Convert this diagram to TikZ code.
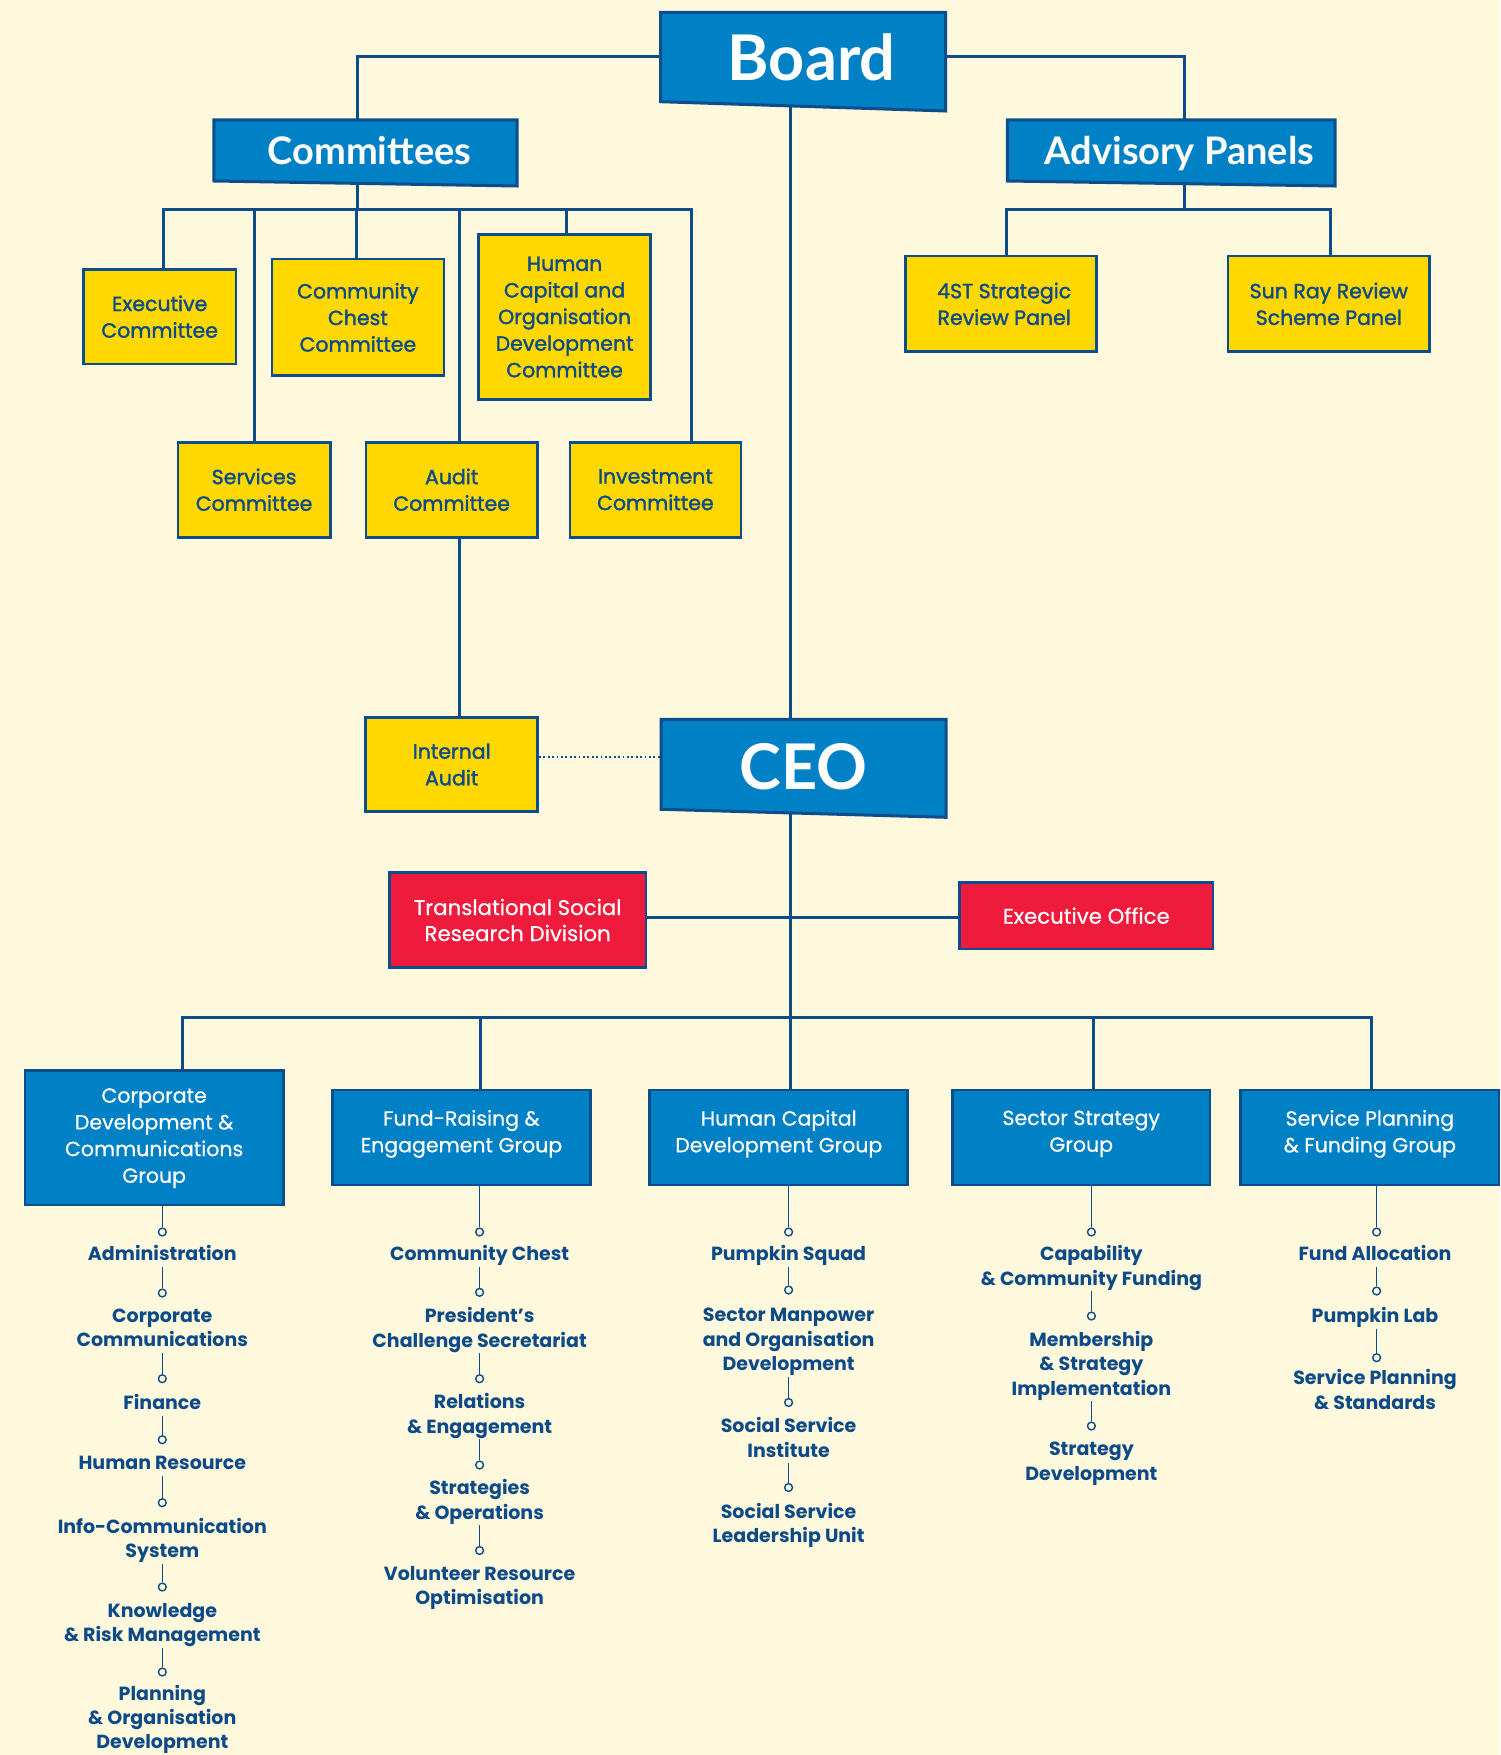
\documentclass[tikz,border=0pt]{standalone}
\usepackage{fontspec}
\setmainfont{Poppins}
\newfontfamily\latofont{Lato}
\newfontfamily\popmed[FakeBold=1.6]{Poppins}
\newfontfamily\popbook[FakeBold=0.6]{Poppins}
\pgfdeclarelayer{bg}
\pgfdeclarelayer{lines}
\pgfsetlayers{bg,lines,main}
\definecolor{bgc}{HTML}{FEF8DD}
\definecolor{ylw}{HTML}{FFD800}
\definecolor{blu}{HTML}{0080C5}
\definecolor{nvy}{HTML}{0E4D8C}
\definecolor{nvyt}{HTML}{0D4A88}
\definecolor{rd}{HTML}{EE1B3D}
\tikzset{
  conn/.style={draw=nvy, line width=3pt},
  sub/.style={draw=nvy, line width=1.6pt},
  dotline/.style={draw=nvy, line width=1.8pt, dash pattern=on 1.8pt off 2.6pt},
  titleshape/.style={fill=blu, draw=nvy, line width=3pt, line join=miter},
  bigtitle/.style={inner sep=0pt, text=white, text depth=0pt, font=\latofont\bfseries\fontsize{63}{63}\selectfont},
  midtitle/.style={inner sep=0pt, text=white, text depth=0pt, font=\latofont\bfseries\fontsize{38}{38}\selectfont},
  ybox/.style={rectangle, fill=ylw, draw=nvy, line width=2.6pt, text=nvyt, align=center, inner sep=0pt, font=\popmed\fontsize{20.5}{26.6}\selectfont},
  rbox/.style={rectangle, fill=rd, draw=nvy, line width=2.6pt, text=white, align=center, inner sep=0pt, font=\popbook\fontsize{21.3}{26}\selectfont},
  gbox/.style={rectangle, fill=blu, draw=nvy, line width=2.8pt, text=white, align=center, inner sep=0pt, font=\popbook\fontsize{20.5}{26.7}\selectfont},
  item/.style={text=nvyt, align=center, inner sep=0pt, text depth=0pt, font=\bfseries\fontsize{19}{24.4}\selectfont},
  dotc/.style={circle, draw=nvy, fill=bgc, line width=1.4pt, minimum size=7.8pt, inner sep=0pt},
}
\begin{document}
\begin{tikzpicture}[x=1pt,y=-1pt]
\begin{pgfonlayer}{bg}
\fill[bgc] (0,0) rectangle (1500,1755);
\end{pgfonlayer}
\useasboundingbox (0,0) rectangle (1500,1755);

% ---------- title shapes ----------
\filldraw[titleshape] (660.7,12.3) -- (945.7,12.3) -- (945.7,111) -- (660.7,101.7) -- cycle;
\node[bigtitle, minimum width=285pt, minimum height=89.4pt] (board) at (803.2,57) {\hspace*{16.6pt}Board};

\filldraw[titleshape] (213.8,119.8) -- (517,119.8) -- (517,186) -- (213.8,181) -- cycle;
\node[midtitle, minimum width=303pt, minimum height=61pt] (committees) at (365.4,150.4) {\hspace*{8pt}Committees};

\filldraw[titleshape] (1007.3,120) -- (1335,120) -- (1335,186) -- (1007.3,181) -- cycle;
\node[midtitle, minimum width=327pt, minimum height=61pt] (advisory) at (1171.2,150.5) {\hspace*{16.6pt}Advisory Panels};

\filldraw[titleshape] (661,719.3) -- (946.2,719.3) -- (946.2,817.3) -- (661,809.3) -- cycle;
\node[bigtitle, minimum width=285pt, minimum height=90pt] (ceo) at (803.6,764.3) {\raisebox{-4.4pt}{CEO}};

% ---------- committees ----------
\node[ybox, minimum width=152.7pt, minimum height=94.7pt] (exec) at (159.65,316.65) {Executive\\Committee};
\node[ybox, minimum width=171.8pt, minimum height=116.7pt] (cc) at (357.9,317.35) {Community\\Chest\\Committee};
\node[ybox, minimum width=172pt, minimum height=165pt] (hcc) at (564.6,317) {Human\\Capital and\\Organisation\\Development\\Committee};
\node[ybox, minimum width=152.2pt, minimum height=95.1pt] (serv) at (254.1,489.75) {Services\\Committee};
\node[ybox, minimum width=171.3pt, minimum height=95.1pt] (audit) at (451.65,489.75) {Audit\\Committee};
\node[ybox, minimum width=171.2pt, minimum height=95.1pt] (invest) at (655.4,489.75) {Investment\\Committee};
\node[ybox, minimum width=172pt, minimum height=94.4pt] (ia) at (451.7,764.5) {Internal\\Audit};

% ---------- advisory panels ----------
\node[ybox, minimum width=191pt, minimum height=95.7pt] (st4) at (1001.2,303.85) {\hspace*{6pt}4ST Strategic\\\hspace*{6pt}Review Panel};
\node[ybox, minimum width=201.6pt, minimum height=95.7pt] (sunray) at (1328.8,303.85) {Sun Ray Review\\Scheme Panel};

% ---------- red boxes ----------
\node[rbox, minimum width=256.7pt, minimum height=94.6pt] (tsr) at (517.65,920) {Translational Social\\Research Division};
\node[rbox, minimum width=253.4pt, minimum height=66.7pt] (eo) at (1086.3,915.65) {Executive Office};

% ---------- groups ----------
\node[gbox, minimum width=258.3pt, minimum height=134.3pt, text depth=4.7pt] (gcorp) at (154.15,1137.85) {Corporate\\Development \&\\Communications\\Group};
\node[gbox, minimum width=257.9pt, minimum height=95pt, text depth=12.7pt] (gfund) at (461.45,1137.5) {Fund-Raising \&\\Engagement Group};
\node[gbox, minimum width=258pt, minimum height=95pt, text depth=12.7pt] (ghc) at (778.8,1137.5) {Human Capital\\Development Group};
\node[gbox, minimum width=257.4pt, minimum height=95pt, text depth=12.7pt] (gsec) at (1081.2,1137.5) {Sector Strategy\\Group};
\node[gbox, minimum width=258.1pt, minimum height=95pt, text depth=12.7pt] (gsp) at (1369.85,1137.5) {Service Planning\\\& Funding Group};

% ---------- list: corporate ----------
\node[dotc] (a1) at (162.3,1232) {};
\node[item] (ai1) at (162.3,1253) {Administration};
\node[dotc] (a2) at (162.3,1293) {};
\node[item] (ai2) at (162.3,1327.75) {Corporate\\Communications};
\node[dotc] (a3) at (162.3,1378.7) {};
\node[item] (ai3) at (162.3,1401.7) {Finance};
\node[dotc] (a4) at (162.3,1439.7) {};
\node[item] (ai4) at (162.3,1462.7) {Human Resource};
\node[dotc] (a5) at (162.3,1502.7) {};
\node[item] (ai5) at (162.3,1537.85) {Info-Communication\\System};
\node[dotc] (a6) at (162.3,1587) {};
\node[item] (ai6) at (162.3,1622.15) {Knowledge\\\& Risk Management};
\node[dotc] (a7) at (162.3,1672) {};
\node[item, font=\bfseries\fontsize{19}{24}\selectfont] (ai7) at (162.3,1717.3) {Planning\\\& Organisation\\Development};

% ---------- list: fund-raising ----------
\node[dotc] (b1) at (479.6,1232) {};
\node[item] (bi1) at (479.6,1253) {Community Chest};
\node[dotc] (b2) at (479.6,1292.3) {};
\node[item] (bi2) at (479.6,1327.3) {President’s\\Challenge Secretariat};
\node[dotc] (b3) at (479.6,1378.7) {};
\node[item] (bi3) at (479.6,1413.25) {Relations\\\& Engagement};
\node[dotc] (b4) at (479.6,1465) {};
\node[item] (bi4) at (479.6,1499.25) {Strategies\\\& Operations};
\node[dotc] (b5) at (479.6,1550.5) {};
\node[item] (bi5) at (479.6,1585.2) {Volunteer Resource\\Optimisation};

% ---------- list: human capital ----------
\node[dotc] (h1) at (788.6,1232) {};
\node[item] (hi1) at (788.6,1253) {Pumpkin Squad};
\node[dotc] (h2) at (788.6,1290) {};
\node[item] (hi2) at (788.6,1339.35) {Sector Manpower\\and Organisation\\Development};
\node[dotc] (h3) at (788.6,1402.5) {};
\node[item] (hi3) at (788.6,1437.4) {Social Service\\Institute};
\node[dotc] (h4) at (788.6,1487.5) {};
\node[item] (hi4) at (788.6,1523) {Social Service\\Leadership Unit};

% ---------- list: sector strategy ----------
\node[dotc] (s1) at (1091.4,1232) {};
\node[item] (si1) at (1091.4,1265.25) {Capability\\\& Community Funding};
\node[dotc] (s2) at (1091.4,1316) {};
\node[item] (si2) at (1091.4,1363.25) {Membership\\\& Strategy\\Implementation};
\node[dotc] (s3) at (1091.4,1426) {};
\node[item] (si3) at (1091.4,1461.4) {Strategy\\Development};

% ---------- list: service planning ----------
\node[dotc] (p1) at (1376.6,1232) {};
\node[item] (pi1) at (1375,1253) {Fund Allocation};
\node[dotc] (p2) at (1376.6,1291) {};
\node[item] (pi2) at (1375,1315) {Pumpkin Lab};
\node[dotc] (p3) at (1376.6,1357.7) {};
\node[item] (pi3) at (1375,1389.5) {Service Planning\\\& Standards};

% ---------- junction coordinates ----------
\coordinate (cbus) at (357,209.3);
\coordinate (abus) at (1184,209.3);
\coordinate (mid) at (790.5,917.3);
\coordinate (trunk) at (790.5,1017.3);

\begin{pgfonlayer}{lines}
% board
\draw[conn] (board.center) -| ([xshift=-8.4pt]committees.center);
\draw[conn] (board.center) -| ([xshift=12.8pt]advisory.center);
\draw[conn] (board.center -| trunk) -- (ceo.center -| trunk);
\draw[conn] (ceo.center -| trunk) -- (trunk);
% committees
\draw[conn] (committees.center -| cbus) -- (cbus);
\draw[conn] (cbus) -| ([xshift=3.7pt]exec.center);
\draw[conn] (cbus) -| (serv.center);
\draw[conn] (cbus) -| ([xshift=-1pt]cc.center);
\draw[conn] (cbus) -| ([xshift=7.85pt]audit.center);
\draw[conn] (cbus) -| ([xshift=1.6pt]hcc.center);
\draw[conn] (cbus) -| ([xshift=36.4pt]invest.center);
\draw[conn] ([xshift=7.85pt]audit.center) -- ([xshift=7.8pt]ia.center);
\draw[dotline] ([yshift=7.2pt]ia.east) -- ([yshift=7.2pt]ia.east -| ceo.west);
% advisory
\draw[conn] (advisory.center -| abus) -- (abus);
\draw[conn] (abus) -| ([xshift=5.3pt]st4.center);
\draw[conn] (abus) -| ([xshift=2pt]sunray.center);
% ceo side
\draw[conn] (mid -| tsr.east) -- (mid -| eo.west);
% groups
\draw[conn] (trunk) -| ([xshift=28.15pt]gcorp.center);
\draw[conn] (trunk) -| ([xshift=18.55pt]gfund.center);
\draw[conn] (trunk) -| ([xshift=11.4pt]ghc.center);
\draw[conn] (trunk) -| ([xshift=12.4pt]gsec.center);
\draw[conn] (trunk) -| ([xshift=1.85pt]gsp.center);
% lists
\draw[sub] (gcorp.center -| a1) -- (a1.north);
\draw[sub] ([yshift=-6pt]ai1.south) -- (a2.north);
\draw[sub] ([yshift=-6pt]ai2.south) -- (a3.north);
\draw[sub] ([yshift=-6pt]ai3.south) -- (a4.north);
\draw[sub] ([yshift=-6pt]ai4.south) -- (a5.north);
\draw[sub] ([yshift=-6pt]ai5.south) -- (a6.north);
\draw[sub] ([yshift=-6pt]ai6.south) -- (a7.north);
\draw[sub] (gfund.center -| b1) -- (b1.north);
\draw[sub] ([yshift=-6pt]bi1.south) -- (b2.north);
\draw[sub] ([yshift=-6pt]bi2.south) -- (b3.north);
\draw[sub] ([yshift=-6pt]bi3.south) -- (b4.north);
\draw[sub] ([yshift=-6pt]bi4.south) -- (b5.north);
\draw[sub] (ghc.center -| h1) -- (h1.north);
\draw[sub] ([yshift=-6pt]hi1.south) -- (h2.north);
\draw[sub] ([yshift=-6pt]hi2.south) -- (h3.north);
\draw[sub] ([yshift=-6pt]hi3.south) -- (h4.north);
\draw[sub] (gsec.center -| s1) -- (s1.north);
\draw[sub] ([yshift=-6pt]si1.south) -- (s2.north);
\draw[sub] ([yshift=-6pt]si2.south) -- (s3.north);
\draw[sub] (gsp.center -| p1) -- (p1.north);
\draw[sub] ([yshift=-6pt]pi1.south -| p2) -- (p2.north);
\draw[sub] ([yshift=-6pt]pi2.south -| p3) -- (p3.north);
\end{pgfonlayer}
\end{tikzpicture}
\end{document}
